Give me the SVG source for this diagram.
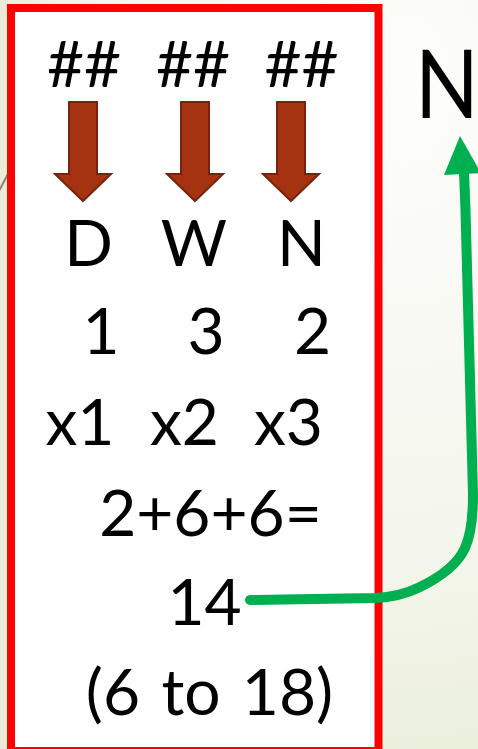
<svg xmlns="http://www.w3.org/2000/svg" width="478" height="749" viewBox="0 0 478 749">
<style>
.t{font-family:Lato,"Liberation Sans",sans-serif;font-size:64px;fill:#000;text-anchor:middle}
.big{font-size:95px;text-anchor:start}
.da{fill:#a53312;stroke:#7a230c;stroke-width:2;stroke-linejoin:miter}
.conn{fill:none;stroke:#00b050;stroke-width:10;stroke-linecap:round;stroke-linejoin:round}
</style>
<defs>
<radialGradient id="bg" cx="0.85" cy="0.12" r="1.1">
<stop offset="0" stop-color="#fdfdfb"/>
<stop offset="0.6" stop-color="#f3f5ea"/>
<stop offset="1" stop-color="#e3ead0"/>
</radialGradient>
<path id="darrow" d="M-14 0 H14 V72 H28 L0 99 L-28 72 H-14 Z"/>
</defs>
<rect x="0" y="0" width="478" height="749" fill="url(#bg)"/>
<rect x="0" y="0" width="8" height="749" fill="#e8edd8"/>
<line x1="-2" y1="193" x2="12" y2="166" stroke="#8a8274" stroke-width="2"/>
<g id="box">
<rect x="11" y="8" width="367.5" height="743" fill="#fff" stroke="#ff0000" stroke-width="8"/>
</g>
<g id="hash">
<text class="t" x="84" y="87">##</text>
<text class="t" x="193" y="87">##</text>
<text class="t" x="301.5" y="87">##</text>
</g>
<g id="arrows">
<use href="#darrow" class="da" x="83" y="102"/>
<use href="#darrow" class="da" x="195" y="102"/>
<use href="#darrow" class="da" x="291" y="102"/>
</g>
<g id="labels">
<text class="t" x="88.5" y="266">D</text>
<text class="t" x="194" y="266">W</text>
<text class="t" x="301.5" y="266">N</text>
</g>
<g id="values">
<text class="t" x="101" y="354">1</text>
<text class="t" x="206" y="354">3</text>
<text class="t" x="312.5" y="354">2</text>
</g>
<g id="multipliers">
<text class="t" x="80" y="445">x1</text>
<text class="t" x="184.5" y="445">x2</text>
<text class="t" x="288.5" y="445">x3</text>
</g>
<g id="sum">
<text class="t" x="210.5" y="536">2+6+6=</text>
</g>
<g id="total">
<text class="t" x="204.5" y="625">14</text>
</g>
<g id="range">
<text class="t" x="209.5" y="715" word-spacing="5">(6 to 18)</text>
</g>
<g id="result">
<text class="t big" x="0" y="0" transform="translate(415,118) scale(0.88,1)">N</text>
</g>
<g id="connectors">
<path class="conn" d="M250 600 L375 598 Q400 597 420 587 Q455 570 465 548 Q473 530 473 495 L465.5 210 L464 172"/>
<polygon points="460,136 444,175 481,173" fill="#00b050"/>
</g>
</svg>
